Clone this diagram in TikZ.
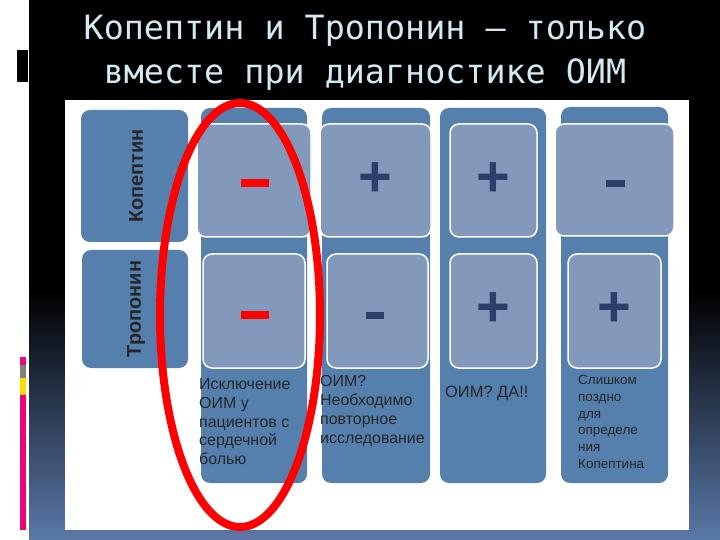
\documentclass[tikz,border=0pt]{standalone}
\usepackage{fontspec}
\setmainfont{Liberation Sans}
\newfontfamily\ttl{DejaVu Sans Mono}
\begin{document}
\begin{tikzpicture}[x=1bp,y=-1bp,
  col/.style={fill=colblue,rounded corners=9bp},
  cell/.style={fill=celblue,draw=white,line width=1.5bp,rounded corners=9bp},
  sign/.style={font=\fontsize{58}{58}\selectfont\bfseries,text=navy},
  lab/.style={font=\fontsize{16}{19}\selectfont,text=black!85,align=left,anchor=north west,inner sep=0pt},
  hdr/.style={font=\fontsize{20}{20}\selectfont\bfseries,text=black!85,rotate=90}]
\definecolor{colblue}{HTML}{5580AE}
\definecolor{celblue}{HTML}{8399BB}
\definecolor{navy}{HTML}{2B3F6B}
\definecolor{ttlc}{HTML}{D3EAF2}
\definecolor{gbot}{HTML}{5A78A8}
\useasboundingbox (0,0) rectangle (720,540);
\fill[white] (0,0) rectangle (720,540);
\fill[black] (29,0) rectangle (720,540);
\shade[top color=black,bottom color=gbot] (29,290) rectangle (720,540);
\fill[black] (17,50) rectangle (28,82);
\fill[magenta!80!red] (20,357) rectangle (26,530);
\fill[gray] (20,365) rectangle (26,378);
\fill[yellow!80!orange] (20,378) rectangle (26,395);
\node[font=\ttl\fontsize{33.5}{33.5}\selectfont,text=ttlc] (t1) at (365,31) {Копептин и Тропонин – только};
\node[font=\ttl\fontsize{33.5}{33.5}\selectfont,text=ttlc] (t2) at (365,75) {вместе при диагностике ОИМ};
\fill[white] (65,100) rectangle (689,530);
\fill[col] (81,110) rectangle (188,242);
\fill[col] (82,250) rectangle (188,368);
\node[hdr] (h1) at (136,176) {Копептин};
\node[hdr] (h2) at (136,309) {Тропонин};
\fill[col] (201,108) rectangle (307,483);
\fill[col] (322,108) rectangle (430,483);
\fill[col] (440,108) rectangle (546,483);
\fill[col] (561,107) rectangle (668,483);
\draw[cell] (197,124) rectangle (311,237);
\draw[cell] (320,124) rectangle (431,237);
\draw[cell] (450,124) rectangle (537,237);
\draw[cell] (555,124) rectangle (674,236);
\draw[cell] (203,254) rectangle (305,368);
\draw[cell] (327,254) rectangle (428,368);
\draw[cell] (450,254) rectangle (537,368);
\draw[cell] (568,254) rectangle (661,368);
\fill[red] (241,179) rectangle (269,187);
\fill[red] (241,311) rectangle (269,319);
\node[sign] (s2) at (375,180) {+};
\node[sign] (s3) at (493,180) {+};
\fill[navy] (606,180) rectangle (625,187);
\fill[navy] (366,312) rectangle (384,319);
\node[sign] (s7) at (493,310) {+};
\node[sign] (s8) at (614,310) {+};
\node[lab] (l1) at (199,378) {Исключение\\ОИМ у\\пациентов с\\сердечной\\болью};
\node[lab] (l2) at (320,375) {ОИМ?\\Необходимо\\повторное\\исследование};
\node[lab,font=\fontsize{16.5}{19}\selectfont] (l3) at (445,386) {ОИМ? ДА!!};
\node[lab,font=\fontsize{13.5}{16.8}\selectfont] (l4) at (578,375) {Слишком\\поздно\\для\\определе\\ния\\Копептина};
\draw[red,line width=8bp] (240,315) ellipse [x radius=80, y radius=212];
\end{tikzpicture}
\end{document}
